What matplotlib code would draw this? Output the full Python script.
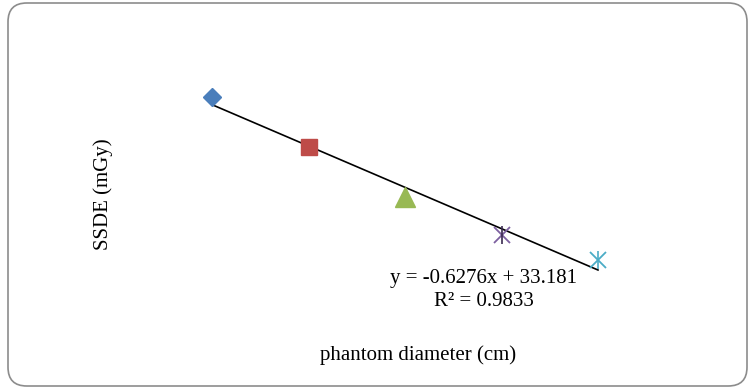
import numpy as np
import matplotlib
matplotlib.use("Agg")
import matplotlib.pyplot as plt
from matplotlib.patches import FancyBboxPatch

# phantom data
diameters = [16, 20, 24, 28, 32]
ssde = [23.5, 20.45, 17.4, 15.1, 13.6]
markers = ["D", "s", "^", "x", "x"]
colors = ["#4a7ebb", "#be4b48", "#98b954", "#7d60a0", "#4bacc6"]
sizes = [9, 12, 14, 11, 11]

plt.rcParams["font.family"] = ["Liberation Serif", "DejaVu Serif"]

fig = plt.figure(figsize=(7.52, 3.89), dpi=100)

# rounded outer frame
frame = FancyBboxPatch((8 / 752, 3 / 389), 739 / 752, 383 / 389,
                       boxstyle="round,pad=0,rounding_size=0.025",
                       transform=fig.transFigure, facecolor="none",
                       edgecolor="#8c8c8c", linewidth=1.2,
                       mutation_aspect=752 / 389, zorder=-1)
fig.patches.append(frame)

ax = fig.add_axes([115.5 / 752, (389 - 319) / 389, 579 / 752, 263 / 389])
ax.set_xlim(12, 36)
ax.set_ylim(10, 26)
ax.axis("off")

# linear trendline
slope, intercept = np.polyfit(diameters, ssde, 1)
xs = np.array([diameters[0], diameters[-1]])
ax.plot(xs, slope * xs + intercept, color="black", linewidth=1.2, zorder=2)

for x, y, m, c, s in zip(diameters, ssde, markers, colors, sizes):
    if m == "x":
        ax.plot(x, y, marker="x", color=c, markersize=s, markeredgewidth=1.3,
                linestyle="none", zorder=3)
        ax.plot(x, y, marker="|", color=c if x == diameters[-1] else "#3a2a50",
                markersize=s + 2, markeredgewidth=1.2, linestyle="none", zorder=3)
    else:
        ax.plot(x, y, marker=m, color=c, markersize=s, linestyle="none", zorder=3)

fig.text(103 / 752, 1 - 194 / 389, "SSDE (mGy)", rotation=90,
         ha="center", va="center", fontsize=15)
fig.text(418 / 752, 1 - 355 / 389, "phantom diameter (cm)",
         ha="center", va="center", fontsize=15)
fig.text(484 / 752, 1 - 279 / 389, "y = -0.6276x + 33.181",
         ha="center", va="center", fontsize=15)
fig.text(484 / 752, 1 - 302 / 389, "R² = 0.9833",
         ha="center", va="center", fontsize=15)

fig.savefig("out.png", dpi=100)
